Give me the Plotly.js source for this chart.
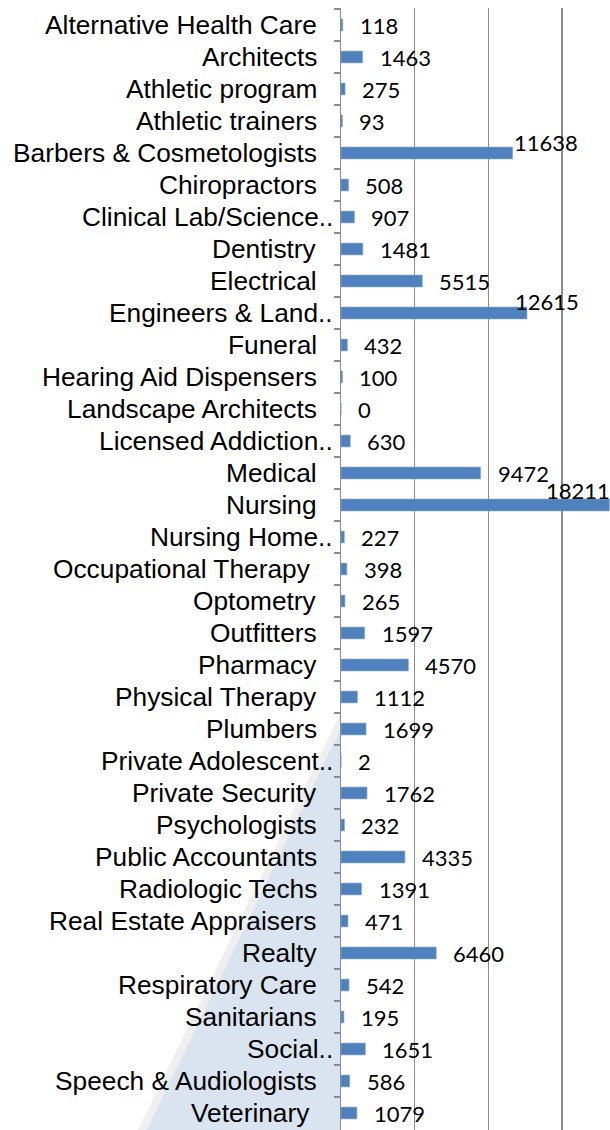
<!DOCTYPE html>
<html>
<head>
<meta charset="utf-8">
<script src="https://cdn.plot.ly/plotly-3.0.1.min.js"></script>
<style>html,body{margin:0;padding:0;background:#fff;}#chart{width:610px;height:1130px;}</style>
</head>
<body>
<div id="chart"></div>
<script>
const categories = [
  "Alternative Health Care", "Architects", "Athletic program", "Athletic trainers",
  "Barbers & Cosmetologists", "Chiropractors", "Clinical Lab/Science..", "Dentistry",
  "Electrical", "Engineers & Land..", "Funeral", "Hearing Aid Dispensers",
  "Landscape Architects", "Licensed Addiction..", "Medical", "Nursing",
  "Nursing Home..", "Occupational Therapy\u00a0", "Optometry", "Outfitters",
  "Pharmacy", "Physical Therapy", "Plumbers", "Private Adolescent..",
  "Private Security", "Psychologists", "Public Accountants", "Radiologic Techs",
  "Real Estate Appraisers", "Realty", "Respiratory Care", "Sanitarians",
  "Social..", "Speech & Audiologists", "Veterinary\u00a0"
];
const values = [
  118, 1463, 275, 93,
  11638, 508, 907, 1481,
  5515, 12615, 432, 100,
  0, 630, 9472, 18211,
  227, 398, 265, 1597,
  4570, 1112, 1699, 2,
  1762, 232, 4335, 1391,
  471, 6460, 542, 195,
  1651, 586, 1079
];

// label placement tweaks for labels Excel moved (styling only)
const labelTweaks = {
  "Barbers & Cosmetologists": {xanchor: "left", xshift: -1, yshift: 11},
  "Engineers & Land..": {xanchor: "left", xshift: -14, yshift: 12},
  "Nursing": {xanchor: "right", xshift: 3, yshift: 15}
};

const annotations = [];
categories.forEach((c, i) => {
  const truncated = c.endsWith("..");
  annotations.push({
    xref: "paper", yref: "y", x: 0, y: c,
    text: c, showarrow: false, xanchor: "right", yanchor: "middle",
    xshift: truncated ? -6 : -22,
    font: {family: "Liberation Sans, Arial, sans-serif", size: 26.3, color: "#000"}
  });
  const t = labelTweaks[c] || {xanchor: "left", xshift: 15, yshift: 0};
  annotations.push({
    xref: "x", yref: "y", x: values[i], y: c,
    text: String(values[i]), showarrow: false,
    xanchor: t.xanchor, yanchor: "middle", xshift: t.xshift, yshift: t.yshift,
    font: {family: "Lato, Open Sans, sans-serif", size: 22, color: "#000"}
  });
});

// decorative background triangle (paper coords; plot left = 341px, plot height 1122px from y=8)
function px(p) { return (p - 341) / 269; }
function py(q) { return (1130 - q) / 1122; }
const shapes = [
  {type: "path", xref: "paper", yref: "paper", layer: "below",
   path: `M ${px(341)} ${py(712)} L ${px(341)} ${py(730)} L ${px(148)} ${py(1130)} L ${px(138)} ${py(1130)} Z`,
   fillcolor: "#efefef", line: {width: 0}},
  {type: "path", xref: "paper", yref: "paper", layer: "below",
   path: `M ${px(341)} ${py(728)} L ${px(341)} ${py(1130)} L ${px(147)} ${py(1130)} Z`,
   fillcolor: "#dae3f0", line: {width: 0}}
];

const trace = {
  type: "bar", orientation: "h",
  x: values, y: categories,
  marker: {color: "#4f81bd", line: {color: "#7fa3d0", width: 0.6}},
  hoverinfo: "none"
};

const layout = {
  width: 610, height: 1130,
  margin: {l: 341, r: 0, t: 8, b: 0, pad: 0},
  paper_bgcolor: "#ffffff", plot_bgcolor: "rgba(0,0,0,0)",
  showlegend: false,
  bargap: 0.63,
  xaxis: {
    range: [0, 18250], dtick: 5000, tick0: 0,
    showgrid: true, gridcolor: "#8c8c8c", gridwidth: 1.4,
    showticklabels: false, zeroline: false, showline: false, ticks: ""
  },
  yaxis: {
    type: "category", autorange: "reversed",
    showline: true, linecolor: "#8c8c8c", linewidth: 1.5,
    ticks: "outside", tickson: "boundaries", ticklen: 6, tickcolor: "#8c8c8c", tickwidth: 1.4,
    showticklabels: false, showgrid: false, zeroline: false
  },
  annotations: annotations,
  shapes: shapes
};

Plotly.newPlot("chart", [trace], layout, {displayModeBar: false, staticPlot: true});
</script>
</body>
</html>
